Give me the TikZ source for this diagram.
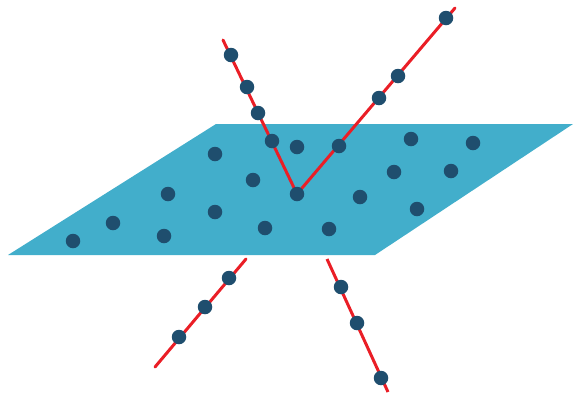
\documentclass[tikz,border=0pt]{standalone}
\definecolor{planecol}{RGB}{66,174,203}
\definecolor{dotcol}{RGB}{31,78,110}
\definecolor{raycol}{RGB}{234,30,38}
\tikzset{
  pt/.style={circle,fill=dotcol,inner sep=0pt,minimum size=14.5pt},
  ray/.style={draw=raycol,line width=3pt,line cap=round}
}
\begin{document}
\begin{tikzpicture}[x=1pt,y=-1pt]
\useasboundingbox (0,0) rectangle (573,392);
% plane
\fill[planecol] (8,255) -- (216,124) -- (573,124) -- (375,255) -- cycle;
% ray end points
\coordinate (ulS) at (223,40);
\coordinate (apex) at (297,194);
\coordinate (urE) at (455,8);
\coordinate (llS) at (246,259);
\coordinate (llE) at (155,367);
\coordinate (lrS) at (327,259);
\coordinate (lrE) at (388,392);
% rays
\draw[ray] (ulS) -- (apex) -- (urE);
\draw[ray] (llS) -- (llE);
\draw[ray,line cap=butt] (lrS) -- (lrE);
% dots on rays
\node[pt] (u1) at (231,55) {};
\node[pt] (u2) at (247,87) {};
\node[pt] (u3) at (258,113) {};
\node[pt] (u4) at (272,141) {};
\node[pt] (a) at (297,194) {};
\node[pt] (r1) at (339,146) {};
\node[pt] (r2) at (379,98) {};
\node[pt] (r3) at (398,76) {};
\node[pt] (r4) at (446,18) {};
\node[pt] (l1) at (229,278) {};
\node[pt] (l2) at (205,307) {};
\node[pt] (l3) at (179,337) {};
\node[pt] (m1) at (341,287) {};
\node[pt] (m2) at (357,323) {};
\node[pt] (m3) at (381,378) {};
% dots on plane
\node[pt] (p1) at (215,154) {};
\node[pt] (p2) at (168,194) {};
\node[pt] (p3) at (113,223) {};
\node[pt] (p4) at (73,241) {};
\node[pt] (p5) at (164,236) {};
\node[pt] (p6) at (215,212) {};
\node[pt] (p7) at (253,180) {};
\node[pt] (p8) at (265,228) {};
\node[pt] (p9) at (297,147) {};
\node[pt] (p10) at (329,229) {};
\node[pt] (p11) at (360,197) {};
\node[pt] (p12) at (394,172) {};
\node[pt] (p13) at (417,209) {};
\node[pt] (p14) at (411,139) {};
\node[pt] (p15) at (451,171) {};
\node[pt] (p16) at (473,143) {};
\end{tikzpicture}
\end{document}
